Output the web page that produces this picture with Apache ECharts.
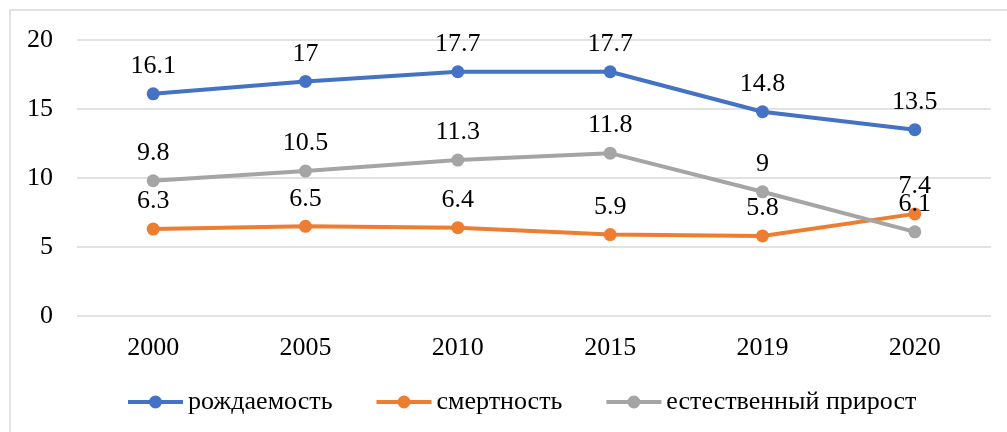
<!DOCTYPE html>
<html>
<head>
<meta charset="utf-8">
<script src="https://cdn.jsdelivr.net/npm/echarts@6/dist/echarts.min.js"></script>
<style>
    html, body {margin: 0; padding: 0; background: #fff;}
    #main {width: 1007px; height: 432px;}
</style>
</head>
<body>
<div id="main"></div>
<script>
// годы
var years = ['2000', '2005', '2010', '2015', '2019', '2020'];
// рождаемость
var birthRate = [16.1, 17, 17.7, 17.7, 14.8, 13.5];
// смертность
var deathRate = [6.3, 6.5, 6.4, 5.9, 5.8, 7.4];
// естественный прирост
var naturalGrowth = [9.8, 10.5, 11.3, 11.8, 9, 6.1];

var font = 'Liberation Serif';
// значок легенды: линия с кружком посередине
var legendIcon = 'path://M0,8 L55,8 L55,12 L0,12 Z M21,10 A6.5,6.5 0 1 1 34,10 A6.5,6.5 0 1 1 21,10 Z';

function makeSeries(name, data, color) {
    return {
        name: name,
        type: 'line',
        data: data,
        symbol: 'circle',
        symbolSize: 13,
        lineStyle: {width: 4, color: color},
        itemStyle: {color: color},
        label: {
            show: true,
            position: 'top',
            distance: 8,
            color: '#000',
            fontFamily: font,
            fontSize: 26
        }
    };
}

var chart = echarts.init(document.getElementById('main'));
var option = {
    animation: false,
    textStyle: {fontFamily: font},
    graphic: [{
        type: 'rect',
        shape: {x: 10, y: 10, width: 1010, height: 440},
        style: {fill: 'none', stroke: '#d9d9d9', lineWidth: 1.5},
        silent: true
    }],
    grid: {left: 77, right: 16, top: 40, bottom: 116},
    legend: {
        bottom: 12,
        left: 123,
        itemWidth: 55,
        itemHeight: 13,
        itemGap: 44,
        icon: legendIcon,
        textStyle: {fontFamily: font, fontSize: 26, color: '#000'},
        data: ['рождаемость', 'смертность', 'естественный прирост']
    },
    xAxis: {
        type: 'category',
        data: years,
        axisLine: {show: false},
        axisTick: {show: false},
        axisLabel: {color: '#000', fontFamily: font, fontSize: 26, margin: 19}
    },
    yAxis: {
        type: 'value',
        min: 0,
        max: 20,
        interval: 5,
        axisLine: {show: false},
        axisTick: {show: false},
        axisLabel: {color: '#000', fontFamily: font, fontSize: 26, margin: 24},
        splitLine: {lineStyle: {color: '#d9d9d9', width: 1.5}}
    },
    series: [
        makeSeries('рождаемость', birthRate, '#4472C4'),
        makeSeries('смертность', deathRate, '#ED7D31'),
        makeSeries('естественный прирост', naturalGrowth, '#A5A5A5')
    ]
};
chart.setOption(option);
</script>
</body>
</html>
